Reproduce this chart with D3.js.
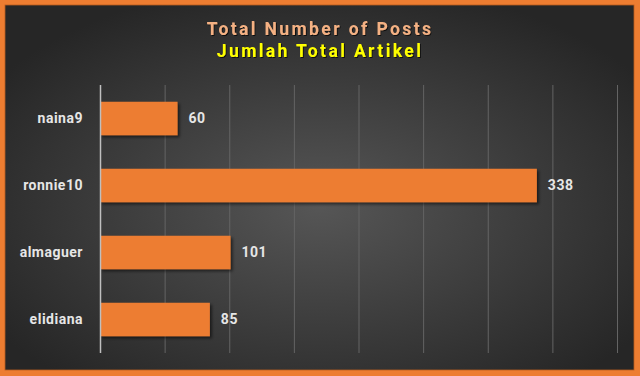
<!DOCTYPE html>
<html>
<head>
<meta charset="utf-8">
<script src="https://cdn.jsdelivr.net/npm/d3@7"></script>
<style>
  body { margin: 0; background: #ed7d31; }
  svg { display: block; font-family: Roboto, "Noto Sans", sans-serif; }
</style>
</head>
<body>
<div id="chart"></div>
<script>
var width = 640, height = 376;

// chart data
var users = ['naina9', 'ronnie10', 'almaguer', 'elidiana'];
var posts = [60, 338, 101, 85];
var xTicks = [0, 50, 100, 150, 200, 250, 300, 350, 400];
var titleEn = 'Total Number of Posts';
var titleId = 'Jumlah Total Artikel';

var margin = {top: 85, right: 23, bottom: 23, left: 100};

var svg = d3.select('#chart').append('svg')
  .attr('width', width)
  .attr('height', height);

var defs = svg.append('defs');

var grad = defs.append('radialGradient')
  .attr('id', 'bg')
  .attr('cx', '50%').attr('cy', '55%').attr('r', '62%');
grad.append('stop').attr('offset', '0%').attr('stop-color', '#565656');
grad.append('stop').attr('offset', '100%').attr('stop-color', '#262626');

var shadow = defs.append('filter')
  .attr('id', 'shadow')
  .attr('x', '-5%').attr('y', '-20%').attr('width', '115%').attr('height', '160%');
shadow.append('feDropShadow')
  .attr('dx', 2).attr('dy', 2).attr('stdDeviation', 1.6)
  .attr('flood-color', '#000').attr('flood-opacity', 0.55);

var textShadow = defs.append('filter').attr('id', 'tshadow');
textShadow.append('feDropShadow')
  .attr('dx', 1).attr('dy', 1).attr('stdDeviation', 0.6)
  .attr('flood-color', '#000').attr('flood-opacity', 0.7);

// orange frame + dark panel
svg.append('rect')
  .attr('width', width).attr('height', height)
  .attr('fill', '#ed7d31');
svg.append('rect')
  .attr('x', 5).attr('y', 5)
  .attr('width', width - 11).attr('height', height - 11)
  .attr('fill', 'url(#bg)')
  .attr('stroke', '#b85c1f').attr('stroke-width', 0.8);

// titles
svg.append('text')
  .attr('x', 320).attr('y', 35)
  .attr('text-anchor', 'middle')
  .attr('fill', '#f4b183')
  .attr('font-size', 17.5).attr('font-weight', 'bold')
  .attr('letter-spacing', 2.4)
  .attr('filter', 'url(#tshadow)')
  .text(titleEn);

svg.append('text')
  .attr('x', 320).attr('y', 57)
  .attr('text-anchor', 'middle')
  .attr('fill', '#ffff00')
  .attr('font-size', 17.5).attr('font-weight', 'bold')
  .attr('letter-spacing', 2.4)
  .attr('filter', 'url(#tshadow)')
  .text(titleId);

var x = d3.scaleLinear()
  .domain([0, 400])
  .range([margin.left, width - margin.right]);

var y = d3.scaleBand()
  .domain(users)
  .range([margin.top, height - margin.bottom])
  .paddingInner(0.5)
  .paddingOuter(0.25);

// gridlines
svg.append('g')
  .selectAll('line')
  .data(xTicks.slice(1))
  .enter()
  .append('line')
  .attr('x1', d => x(d) + 0.5).attr('x2', d => x(d) + 0.5)
  .attr('y1', margin.top).attr('y2', height - margin.bottom)
  .attr('stroke', '#646464').attr('stroke-width', 1);

var data = users.map((u, i) => ({user: u, value: posts[i]}));

// bars
svg.append('g')
  .selectAll('rect')
  .data(data)
  .enter()
  .append('rect')
  .attr('x', x(0))
  .attr('y', d => y(d.user))
  .attr('width', d => x(d.value) - x(0))
  .attr('height', y.bandwidth())
  .attr('fill', '#ed7d31')
  .attr('filter', 'url(#shadow)');

// category axis line
svg.append('line')
  .attr('x1', x(0) + 0.5).attr('x2', x(0) + 0.5)
  .attr('y1', margin.top).attr('y2', height - margin.bottom)
  .attr('stroke', '#bfbfbf').attr('stroke-width', 1.5);

// category labels
svg.append('g')
  .selectAll('text')
  .data(users)
  .enter()
  .append('text')
  .attr('x', 83)
  .attr('y', d => y(d) + y.bandwidth() / 2)
  .attr('dy', '0.35em')
  .attr('text-anchor', 'end')
  .attr('fill', '#e6e6e6')
  .attr('font-size', 14).attr('font-weight', 'bold')
  .attr('letter-spacing', 0.5)
  .text(d => d);

// value labels
svg.append('g')
  .selectAll('text')
  .data(data)
  .enter()
  .append('text')
  .attr('x', d => x(d.value) + 11)
  .attr('y', d => y(d.user) + y.bandwidth() / 2)
  .attr('dy', '0.35em')
  .attr('fill', '#e6e6e6')
  .attr('font-size', 14).attr('font-weight', 'bold')
  .attr('letter-spacing', 0.5)
  .text(d => d.value);
</script>
</body>
</html>
